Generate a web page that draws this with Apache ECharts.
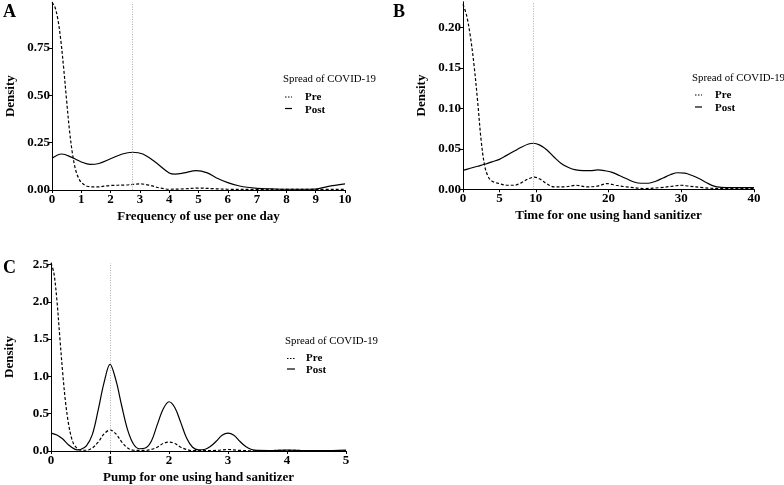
<!DOCTYPE html>
<html><head><meta charset="utf-8">
<script src="https://cdn.jsdelivr.net/npm/echarts@6/dist/echarts.min.js"></script>
<style>html,body{margin:0;padding:0;background:#fff}#c{width:784px;height:485px}</style>
</head><body><div id="c"></div>
<script>
// Panel A: Frequency of use per one day
const aPre = [[0,0.99],[0.1,0.965],[0.2,0.90],[0.3,0.79],[0.4,0.64],[0.5,0.47],[0.6,0.31],[0.7,0.19],[0.8,0.11],[0.9,0.065],[1.0,0.04],[1.2,0.02],[1.5,0.016],[2.0,0.024],[2.5,0.026],[3.0,0.032],[3.3,0.026],[3.7,0.01],[4.0,0.004],[4.5,0.006],[5.0,0.01],[5.5,0.007],[6.0,0.004],[7,0.003],[8,0.003],[9,0.003],[10,0.003]];
const aPost = [[0,0.167],[0.33,0.19],[0.7,0.17],[1.0,0.148],[1.3,0.135],[1.6,0.14],[2.0,0.165],[2.4,0.19],[2.75,0.199],[3.1,0.19],[3.5,0.15],[4.0,0.09],[4.2,0.084],[4.5,0.09],[4.93,0.102],[5.3,0.09],[5.6,0.065],[6.0,0.039],[6.4,0.021],[7.0,0.009],[7.5,0.006],[8,0.004],[8.5,0.004],[9,0.005],[9.4,0.018],[10,0.032]];
const aMark = 2.75;
const aYTicks = [0,0.25,0.5,0.75];
// Panel B: Time for one using hand sanitizer
const bPre = [[0,0.229],[0.5,0.215],[1.0,0.19],[1.5,0.155],[2.0,0.11],[2.5,0.06],[3.0,0.028],[3.5,0.015],[4.0,0.01],[5,0.007],[6,0.005],[7,0.005],[8,0.008],[9,0.013],[9.8,0.015],[10.5,0.013],[11.5,0.007],[12.5,0.003],[14,0.003],[15.5,0.005],[17,0.003],[18.5,0.004],[19.8,0.007],[21,0.005],[22.5,0.003],[25,0.001],[27,0.002],[29,0.004],[30,0.005],[31,0.004],[33,0.002],[35,0.001],[40,0.001]];
const bPost = [[0,0.0235],[1,0.026],[2,0.0285],[3,0.031],[4,0.034],[5,0.037],[6,0.042],[7,0.047],[8,0.052],[9,0.056],[9.7,0.057],[10.5,0.055],[11.5,0.049],[12.5,0.040],[13.5,0.032],[14.5,0.027],[15.5,0.024],[16.5,0.023],[17.5,0.023],[18.5,0.024],[19.5,0.023],[20.5,0.021],[21.5,0.017],[22.5,0.013],[23.5,0.009],[24.5,0.0075],[25.5,0.0075],[26.5,0.01],[27.5,0.014],[28.5,0.018],[29.5,0.0205],[30.5,0.02],[31.5,0.017],[32.5,0.013],[33.5,0.008],[34.5,0.004],[35.5,0.0025],[37,0.002],[40,0.002]];
const bMark = 9.6;
const bXTicks = [0,5,10,20,30,40];
const bYTicks = [0,0.05,0.1,0.15,0.2];
// Panel C: Pump for one using hand sanitizer
const cPre = [[0,2.52],[0.05,2.38],[0.1,2.02],[0.15,1.52],[0.2,1.03],[0.25,0.63],[0.3,0.35],[0.35,0.17],[0.4,0.075],[0.5,0.012],[0.6,0.01],[0.7,0.04],[0.8,0.12],[0.9,0.23],[1.0,0.28],[1.1,0.23],[1.2,0.12],[1.3,0.04],[1.4,0.01],[1.6,0.008],[1.7,0.02],[1.8,0.05],[1.9,0.1],[2.0,0.12],[2.1,0.1],[2.2,0.05],[2.3,0.02],[2.4,0.005],[2.8,0.008],[3.0,0.02],[3.2,0.008],[3.5,0.002],[4.0,0.01],[4.5,0.002],[5.0,0.003]];
const cPost = [[0,0.24],[0.1,0.215],[0.2,0.16],[0.3,0.08],[0.4,0.025],[0.45,0.015],[0.5,0.02],[0.6,0.07],[0.7,0.22],[0.8,0.55],[0.9,0.92],[1.0,1.16],[1.1,0.95],[1.2,0.6],[1.3,0.28],[1.4,0.09],[1.5,0.03],[1.6,0.04],[1.7,0.13],[1.8,0.35],[1.9,0.56],[2.0,0.66],[2.1,0.58],[2.2,0.38],[2.3,0.17],[2.4,0.05],[2.5,0.015],[2.6,0.02],[2.7,0.06],[2.8,0.13],[2.9,0.21],[3.0,0.24],[3.1,0.21],[3.2,0.13],[3.3,0.06],[3.4,0.02],[3.5,0.008],[3.7,0.006],[4.0,0.012],[4.3,0.006],[4.6,0.004],[5.0,0.012]];
const cMark = 1.0;
const cYTicks = [0,0.5,1,1.5,2,2.5];
const legendNames = ['Pre','Post'];
const legendTitle = 'Spread of COVID-19';

const F = 'Liberation Serif';
const chart = echarts.init(document.getElementById('c'), null, {renderer:'canvas'});

function xAx(idx, min, max, interval, name, custom){
  const o = {type:'value', gridIndex:idx, min:min, max:max, interval:interval,
    name:name, nameLocation:'middle', nameGap:20,
    nameTextStyle:{fontFamily:F, fontWeight:'bold', fontSize:13, color:'#000'},
    axisLine:{show:true, onZero:false, lineStyle:{color:'#000', width:1}},
    axisTick:{show:true, length:3, lineStyle:{color:'#000'}},
    axisLabel:{fontFamily:F, fontWeight:'bold', fontSize:13, color:'#000', margin:3},
    splitLine:{show:false}};
  if(custom){ o.axisTick.customValues = custom; o.axisLabel.customValues = custom; }
  return o;
}
function yAx(idx, max, ticks, dec){
  return {type:'value', gridIndex:idx, min:0, max:max,
    name:'Density', nameLocation:'middle', nameGap:35, nameRotate:90,
    nameTextStyle:{fontFamily:F, fontWeight:'bold', fontSize:13, color:'#000'},
    axisLine:{show:true, lineStyle:{color:'#000', width:1}},
    axisTick:{show:true, length:3, lineStyle:{color:'#000'}, customValues:ticks},
    axisLabel:{fontFamily:F, fontWeight:'bold', fontSize:13, color:'#000', margin:2,
      customValues:ticks, formatter:function(v){return v.toFixed(dec);}},
    splitLine:{show:false}};
}
function ser(name, data, idx, dashed, mark){
  const s = {name:name, type:'line', xAxisIndex:idx, yAxisIndex:idx, data:data,
    smooth:0.35, showSymbol:false, symbol:'none',
    lineStyle:{color:'#000', width:1.2, type: dashed ? [3,2] : 'solid'},
    itemStyle:{color:'#000'}, animation:false};
  if(mark !== undefined){
    s.markLine = {silent:true, symbol:'none', label:{show:false},
      lineStyle:{color:'#999', width:0.8, type:[1,1.5]}, data:[{xAxis:mark}]};
  }
  return s;
}
// legend blocks drawn as graphics: title pos, icon x range, row y's, text x
function legendBlock(tx, ty, ix1, ix2, y1, y2, textX){
  return [
    {type:'text', left:tx, top:ty, style:{text:legendTitle, font:'normal 10.8px "Liberation Serif"', fill:'#000'}},
    {type:'line', shape:{x1:ix1, y1:y1, x2:ix2, y2:y1}, style:{stroke:'#000', lineWidth:1, lineDash:[1.5,1.5]}},
    {type:'line', shape:{x1:ix1, y1:y2, x2:ix2, y2:y2}, style:{stroke:'#000', lineWidth:1.2}},
    {type:'text', x:textX, y:y1, style:{text:legendNames[0], font:'bold 11px "Liberation Serif"', fill:'#000', verticalAlign:'middle'}},
    {type:'text', x:textX, y:y2+1.5, style:{text:legendNames[1], font:'bold 11px "Liberation Serif"', fill:'#000', verticalAlign:'middle'}}
  ];
}
const panelLbl = (t, l, tp) => ({type:'text', left:l, top:tp,
  style:{text:t, font:'bold 18px "Liberation Serif"', fill:'#000'}});

chart.setOption({
  animation:false,
  graphic:[].concat(
    [panelLbl('A',3,3), panelLbl('B',393,3), panelLbl('C',3,259)],
    legendBlock(283,74, 285,292, 97,108.5, 305),
    legendBlock(692,73, 695,702, 95,107, 715),
    legendBlock(285,336, 287,295, 358.5,369, 306)
  ),
  grid:[
    {left:52, top:2.3, width:293, height:187.7},
    {left:463, top:1.8, width:291, height:187.5},
    {left:51, top:263, width:295, height:189}
  ],
  xAxis:[
    xAx(0,0,10,1,'Frequency of use per one day'),
    xAx(1,0,40,5,'Time for one using hand sanitizer', bXTicks),
    xAx(2,0,5,1,'Pump for one using hand sanitizer')
  ],
  yAxis:[ yAx(0,0.99,aYTicks,2), yAx(1,0.232,bYTicks,2), yAx(2,2.52,cYTicks,1) ],
  series:[
    ser('Pre', aPre, 0, true), ser('Post', aPost, 0, false, aMark),
    ser('Pre', bPre, 1, true), ser('Post', bPost, 1, false, bMark),
    ser('Pre', cPre, 2, true), ser('Post', cPost, 2, false, cMark)
  ]
});
</script></body></html>
